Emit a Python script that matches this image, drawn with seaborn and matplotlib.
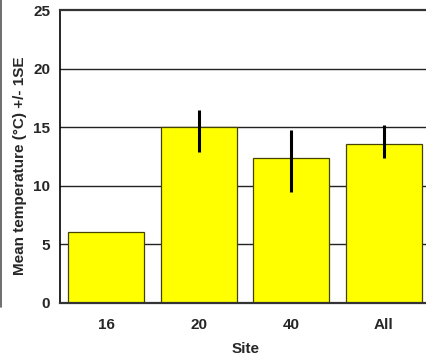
import matplotlib
matplotlib.use("Agg")
import matplotlib.pyplot as plt
from matplotlib.lines import Line2D
import seaborn as sns
import pandas as pd

sites = ["16", "20", "40", "All"]
mean_temp = [6.1, 15.0, 12.4, 13.6]
se_low = [6.1, 12.9, 9.5, 12.4]
se_high = [6.1, 16.5, 14.8, 15.2]
y_ticks = [0, 5, 10, 15, 20, 25]

df = pd.DataFrame({"Site": sites, "Temp": mean_temp})

sns.set_style("white")
plt.rcParams["font.family"] = ["Liberation Sans", "DejaVu Sans"]
plt.rcParams["font.weight"] = "bold"

fig = plt.figure(figsize=(4.26, 3.64), dpi=100)
ax = fig.add_axes([60 / 426, 1 - 303 / 364, 370 / 426, 293 / 364])

# horizontal reference lines behind the bars
for v in y_ticks[1:-1]:
    ax.axhline(v, color="#222222", lw=1.0, zorder=0)

sns.barplot(data=df, x="Site", y="Temp", color="#FFFF00", saturation=1,
            edgecolor="#444400", linewidth=0.9, width=0.82, errorbar=None,
            ax=ax, zorder=2)

# +/- 1 SE as plain vertical lines
for i, (lo, hi) in enumerate(zip(se_low, se_high)):
    if hi > lo:
        ax.plot([i, i], [lo, hi], color="black", lw=2.2, zorder=3,
                solid_capstyle="butt")

ax.set_xlim(-0.5, 3.5)
ax.set_ylim(0, 25)
ax.set_yticks(y_ticks)
ax.set_yticklabels([str(t) for t in y_ticks], fontsize=11, fontweight="bold")
ax.set_xticklabels(sites, fontsize=11, fontweight="bold")
ax.tick_params(axis="x", direction="out", length=5, width=1, color="#555555", pad=6)
ax.tick_params(axis="y", length=0, pad=7)

ax.spines["right"].set_visible(False)
ax.spines["left"].set_color("black")
ax.spines["left"].set_linewidth(1.2)
ax.spines["top"].set_color("#333333")
ax.spines["top"].set_linewidth(1.6)
ax.spines["bottom"].set_color("#333333")
ax.spines["bottom"].set_linewidth(1.6)

ax.set_xlabel("Site", fontsize=11, fontweight="bold")
ax.set_ylabel("Mean temperature (\u00b0C) +/- 1SE", fontsize=11, fontweight="bold")
ax.xaxis.set_label_coords((246 - 60) / 370, -(349 - 303) / 293)
ax.xaxis.label.set_va("center")
ax.yaxis.set_label_coords(-(60 - 20) / 370, (303 - 166) / 293)
ax.yaxis.label.set_va("center")

# outer frame edge on the left
fig.add_artist(Line2D([1.2 / 426, 1.2 / 426], [1 - 307 / 364, 1], color="#555555", lw=1.2,
                      transform=fig.transFigure))

fig.savefig("out.png", dpi=100)
